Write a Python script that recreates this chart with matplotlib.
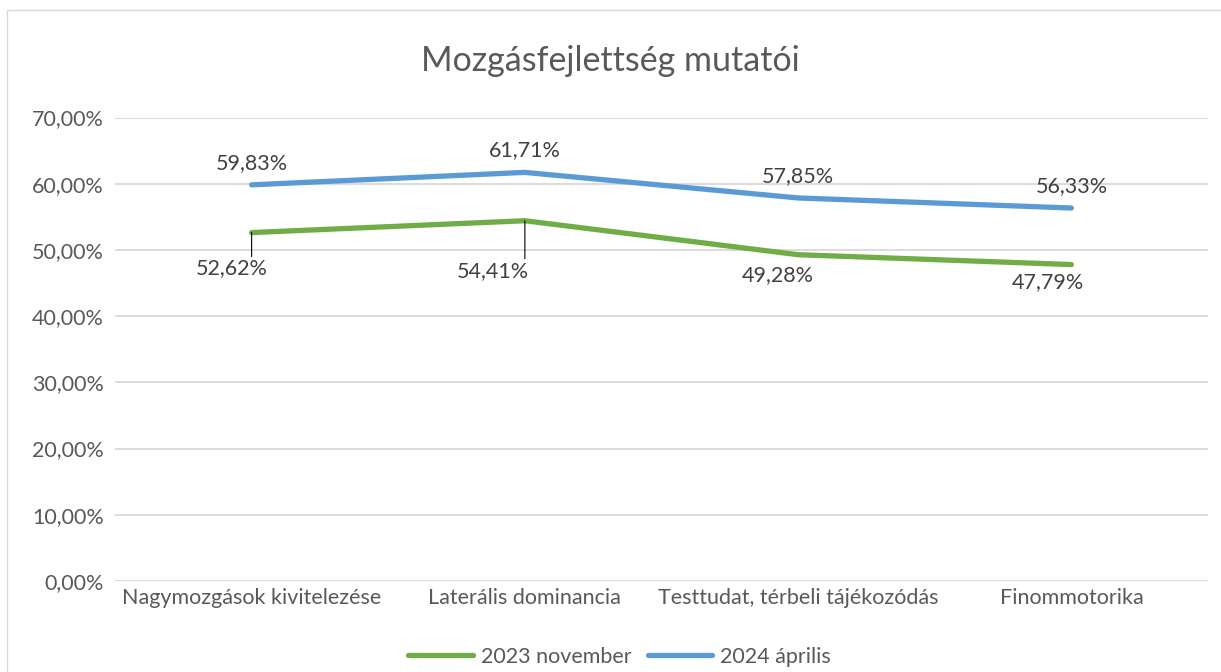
import matplotlib
matplotlib.use("Agg")
import matplotlib.pyplot as plt
from matplotlib.patches import Rectangle
from matplotlib.ticker import FuncFormatter

categories = ["Nagymozgások kivitelezése", "Laterális dominancia",
              "Testtudat, térbeli tájékozódás", "Finommotorika"]
nov_2023 = [52.62, 54.41, 49.28, 47.79]
apr_2024 = [59.83, 61.71, 57.85, 56.33]
series_names = ["2023 november", "2024 április"]

GREEN = "#70AD47"
BLUE = "#5B9BD5"
GREY = "#595959"
DARK = "#404040"
GRID = "#D9D9D9"
FS = 15.5

plt.rcParams["font.family"] = ["Lato", "DejaVu Sans"]

def pct(v):
    return f"{v:.2f}%".replace(".", ",")

fig = plt.figure(figsize=(12.21, 6.72), dpi=100)
fig.patches.append(Rectangle((7 / 1221, -0.1), 1.2, (662 + 67) / 672,
                             transform=fig.transFigure, fill=False,
                             edgecolor=GRID, lw=1.0))
ax = fig.add_axes([115 / 1221, 91 / 672, 1093 / 1221, 463.5 / 672])

x = list(range(len(categories)))
ax.plot(x, nov_2023, color=GREEN, lw=3.8, solid_capstyle="round",
        solid_joinstyle="round", label=series_names[0], zorder=3)
ax.plot(x, apr_2024, color=BLUE, lw=3.8, solid_capstyle="round",
        solid_joinstyle="round", label=series_names[1], zorder=3)

ax.set_xlim(-0.5, len(categories) - 0.5)
ax.set_ylim(0, 70)
ax.set_yticks(range(0, 71, 10))
ax.yaxis.set_major_formatter(FuncFormatter(lambda v, p: pct(v)))
ax.set_xticks(x)
ax.set_xticklabels(categories)
ax.grid(axis="y", color=GRID, lw=1.3)
ax.set_axisbelow(True)
for s in ax.spines.values():
    s.set_visible(False)
ax.tick_params(axis="both", length=0, labelsize=FS, colors=GREY, pad=8)
ax.tick_params(axis="x", pad=5)

# data labels (pixel offsets)
blue_off = [(0, 22), (0, 22), (0, 22), (0, 22)]
green_off = [(-20, -36), (-32, -50), (-20, -20), (-24, -18)]
leaders = [True, True, False, False]
for i, v in enumerate(apr_2024):
    ax.annotate(pct(v), (i, v), xytext=blue_off[i], textcoords="offset pixels",
                ha="center", va="center", fontsize=FS, color=DARK)
for i, v in enumerate(nov_2023):
    ax.annotate(pct(v), (i, v), xytext=green_off[i], textcoords="offset pixels",
                ha="center", va="center", fontsize=FS, color=DARK)
    if leaders[i]:
        ax.annotate("", (i, v), xytext=(0, green_off[i][1] + 12),
                    textcoords="offset pixels",
                    arrowprops=dict(arrowstyle="-", color="#000000", lw=0.8,
                                    shrinkA=0, shrinkB=0))

fig.text(0.5, 1 - 61 / 672, "Mozgásfejlettség mutatói", ha="center",
         va="center", fontsize=24.5, color=GREY)

leg = fig.legend(loc="center", bbox_to_anchor=(0.5 + 9 / 1221, 1 - 657 / 672),
                 ncol=2, frameon=False, fontsize=FS, handlelength=3.0,
                 columnspacing=0.75, handletextpad=0.37)
for t in leg.get_texts():
    t.set_color(GREY)

fig.savefig("out.png", dpi=100)
